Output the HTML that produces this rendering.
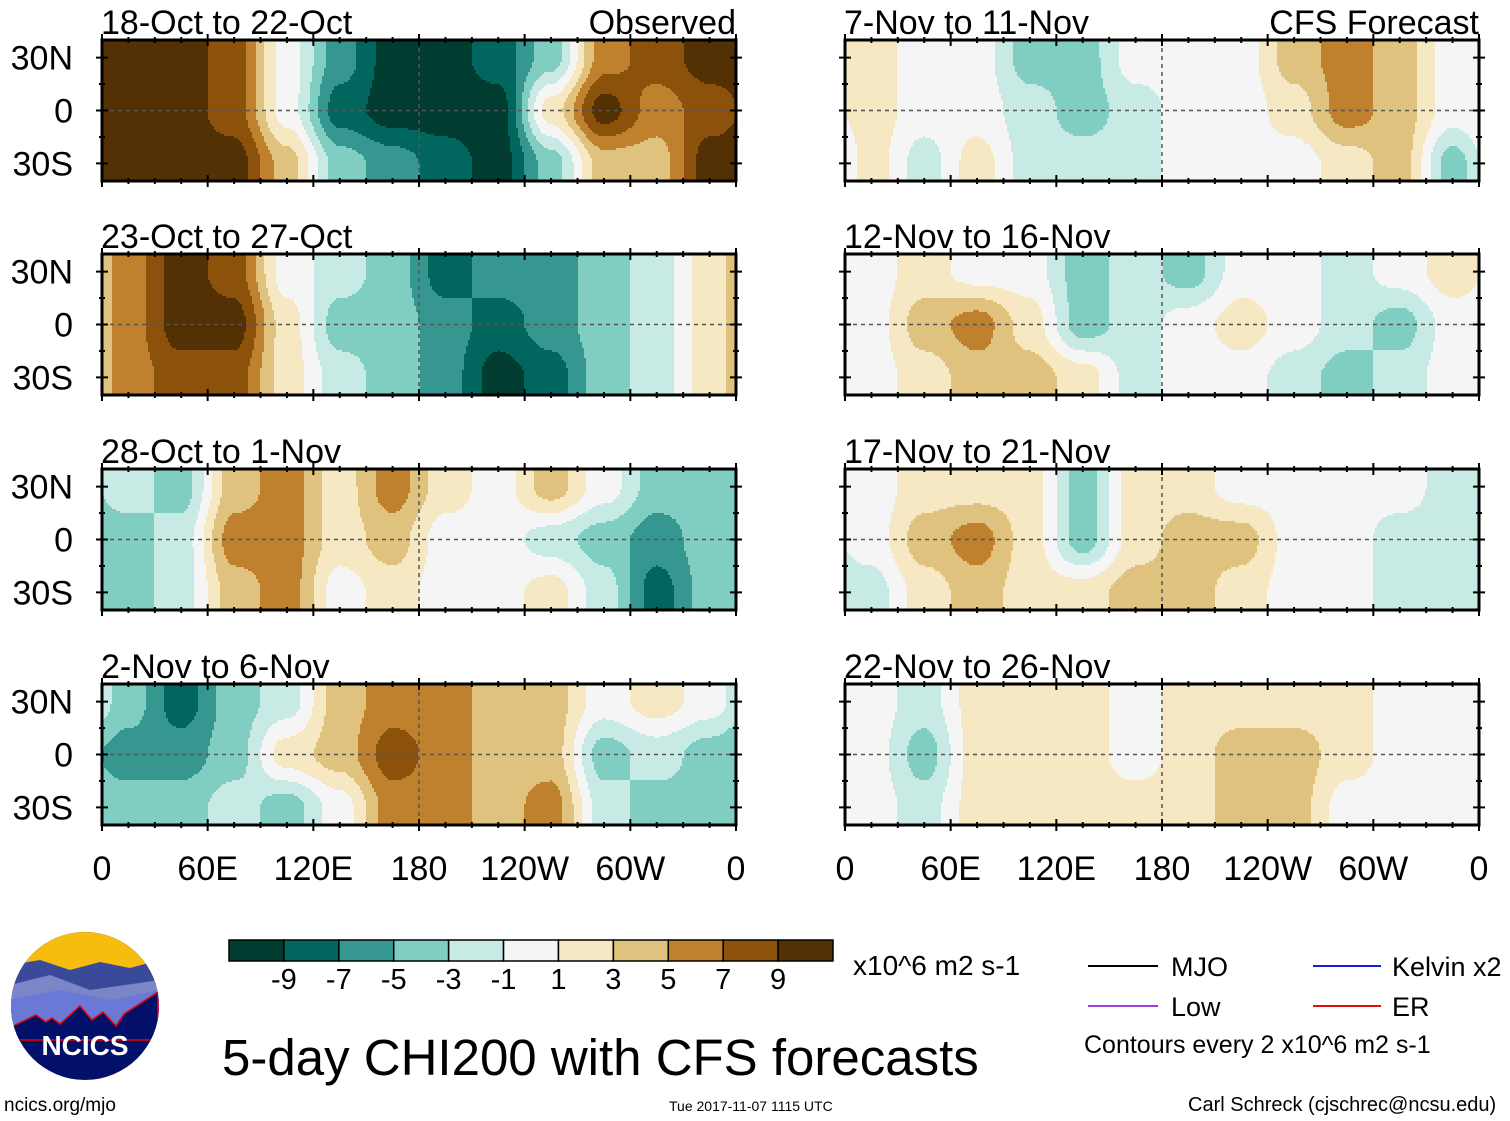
<!DOCTYPE html>
<html><head><meta charset="utf-8"><style>
body{margin:0;background:#fff;}
svg{display:block;font-family:"Liberation Sans",sans-serif;}
</style></head><body>
<svg id="fig" width="1510" height="1121" viewBox="0 0 1510 1121">
<defs>
<clipPath id="logoclip"><circle cx="85" cy="1006" r="74"/></clipPath>
</defs>
<g id="panels"></g>
<g clip-path="url(#logoclip)">
<rect x="10" y="930" width="150" height="160" fill="#03106a"/>
<rect x="10" y="930" width="150" height="55" fill="#f6bd0f"/>
<path d="M10 965 L40 960 L70 970 L100 962 L130 968 L160 960 L160 1020 L10 1020Z" fill="#3a4a9a"/>
<path d="M10 985 L50 975 L90 990 L160 980 L160 1020 L10 1020Z" fill="#7a86c8"/>
<path d="M10 1000 L60 990 L110 1000 L160 990 L160 1030 L10 1030Z" fill="#6a78d6"/>
<path d="M13 1026 L36 1015 L46 1022 L52 1018 L60 1024 L80 1006 L92 1020 L103 1012 L116 1026 L124 1014 L158 992 L158 1040 L13 1040Z" fill="#03106a" stroke="#e00" stroke-width="1.5"/>
</g>
<text x="85" y="1055" text-anchor="middle" fill="#fff" font-weight="bold" font-size="28">NCICS</text>
<text x="4" y="1111" font-size="19">ncics.org/mjo</text>
<g id="cbar"></g>
<text x="853" y="975" font-size="28">x10^6 m2 s-1</text>
<text x="222" y="1075" font-size="51">5-day CHI200 with CFS forecasts</text>
<text x="669" y="1111" font-size="14">Tue 2017-11-07 1115 UTC</text>
<text x="1188" y="1111" font-size="20">Carl Schreck (cjschrec@ncsu.edu)</text>
<g font-size="27">
<line x1="1088" y1="966" x2="1158" y2="966" stroke="#000" stroke-width="2"/>
<text x="1171" y="976">MJO</text>
<line x1="1313" y1="966" x2="1381" y2="966" stroke="#1020e0" stroke-width="2"/>
<text x="1392" y="976">Kelvin x2</text>
<line x1="1088" y1="1006" x2="1158" y2="1006" stroke="#9a40e0" stroke-width="2"/>
<text x="1171" y="1016">Low</text>
<line x1="1313" y1="1006" x2="1381" y2="1006" stroke="#e01010" stroke-width="2"/>
<text x="1392" y="1016">ER</text>
<text x="1084" y="1053" font-size="25">Contours every 2 x10^6 m2 s-1</text>
</g>
</svg>
<script>
const colors=["#003c30","#01665e","#35978f","#80cdc1","#c7eae5","#f5f5f5","#f6e8c3","#dfc27d","#bf812d","#8c510a","#543005"];
const cbarLabels=["-9","-7","-5","-3","-1","1","3","5","7","9"];
const panelTitles=["18-Oct to 22-Oct","23-Oct to 27-Oct","28-Oct to 1-Nov","2-Nov to 6-Nov","7-Nov to 11-Nov","12-Nov to 16-Nov","17-Nov to 21-Nov","22-Nov to 26-Nov"];
const latLabels=["30N","0","30S"];
const latValues=[30,0,-30];
const lonLabels=["0","60E","120E","180","120W","60W","0"];
const lonValues=[0,60,120,180,240,300,360];
// each panel: rows north(30N), equator, south(30S); 12 columns of 30 deg (centres 15E, 45E, ...)
// values are class centres (x10^6 m2 s-1): 0 = white, +-2 = lightest, ... +-10 = darkest
const p1=[[10,10,8,0,-6,-10,-10,-8,-4,6,8,10],[10,10,8,0,-8,-10,-10,-10,2,10,6,8],[10,10,10,4,-4,-6,-8,-10,-4,4,4,10]];
const p2=[[6,10,8,0,-2,-4,-8,-6,-6,-4,-2,2],[6,10,10,2,-4,-4,-6,-8,-6,-4,-2,2],[6,8,8,2,-2,-4,-6,-10,-8,-4,-2,2]];
const p3=[[-2,-4,4,6,2,6,2,0,4,0,-4,-4],[-4,-2,6,6,2,4,0,0,-2,-4,-6,-4],[-4,-2,4,6,0,2,0,0,2,-2,-8,-4]];
const p4=[[-4,-8,-4,-2,4,6,6,4,4,0,2,0],[-6,-6,-4,2,4,8,6,4,4,-4,-2,-4],[-4,-4,-2,-4,0,6,6,4,6,-2,-4,-4]];
const p5=[[2,0,0,-4,-4,0,0,0,4,6,4,0],[2,0,0,-2,-4,-2,0,0,2,6,4,0],[2,-2,2,-2,-2,-2,0,0,0,2,4,-4]];
const p6=[[0,2,0,0,-4,-2,-4,0,0,-2,0,2],[0,4,6,2,-4,-2,0,2,0,-2,-4,0],[0,2,4,4,2,-2,0,0,-2,-4,-2,0]];
const p7=[[0,2,2,2,-4,2,2,0,0,0,0,-2],[0,4,6,2,-4,2,4,4,0,0,-2,-2],[-2,2,4,2,2,4,4,2,0,0,-2,-2]];
const p8=[[0,-2,2,2,2,0,2,2,2,2,0,0],[0,-4,2,2,2,0,2,4,4,2,0,0],[0,-2,2,2,2,2,2,4,4,0,0,0]];
const panelData=[p1,p2,p3,p4,p5,p6,p7,p8];

const NS="http://www.w3.org/2000/svg";
function mk(tag,attrs,parent){const e=document.createElementNS(NS,tag);for(const k in attrs)e.setAttribute(k,attrs[k]);parent.appendChild(e);return e;}
function classOf(v){let i=Math.floor((v+11)/2);return Math.max(0,Math.min(10,i));}
function smooth(t){return t*t*(3-2*t);}
function field(data,lon,lat){
  let c=(lon-15)/30; c=((c%12)+12)%12;
  const c0=Math.floor(c),c1=(c0+1)%12,fc=smooth(c-c0);
  let r=(30-lat)/30; r=Math.max(0,Math.min(2,r));
  const r0=Math.min(1,Math.floor(r)),r1=r0+1,fr=smooth(r-r0);
  const a=data[r0][c0]*(1-fc)+data[r0][c1]*fc;
  const b=data[r1][c0]*(1-fc)+data[r1][c1]*fc;
  return a*(1-fr)+b*fr;
}
const W=634,H=141,STEP=2;
const panelX=[102,845],panelY=[40,254,469,684];
const root=document.getElementById('panels');
panelData.forEach((data,pi)=>{
  const px=panelX[Math.floor(pi/4)],py=panelY[pi%4];
  const xs=lon=>px+lon/360*W;
  const ys=lat=>py+H/2-lat/40*(H/2);
  const g=mk('g',{},root);
  
  
  const fld=mk('g',{'shape-rendering':'crispEdges'},g);
  for(let y=0;y<H;y+=STEP){
    const lat=40-(y+STEP/2)/H*80;
    const hgt=Math.min(STEP,H-y)+0.5;
    let runStart=0,runCls=-1;
    const flush=(end)=>{
      const r=mk('rect',{x:px+runStart,y:py+y,width:end-runStart+0.5,height:hgt,fill:colors[runCls]},fld);
      
      
    };
    for(let x=0;x<W;x+=STEP){
      const lon=(x+STEP/2)/W*360;
      const cls=classOf(field(data,lon,lat));
      if(cls!==runCls){
        if(runCls>=0)flush(x);
        runStart=x;runCls=cls;
      }
    }
    flush(W);
  }
  mk('line',{x1:px,y1:ys(0),x2:px+W,y2:ys(0),stroke:'#555','stroke-dasharray':'4,4','stroke-width':1.5},g);
  mk('line',{x1:xs(180),y1:py,x2:xs(180),y2:py+H,stroke:'#555','stroke-dasharray':'4,4','stroke-width':1.5},g);
  mk('rect',{x:px,y:py,width:W,height:H,fill:'none',stroke:'#000','stroke-width':3},g);
  for(let l=0;l<=360;l+=15){
    const len=(l%60===0)?6:3;
    mk('line',{x1:xs(l),y1:py-len,x2:xs(l),y2:py+len,stroke:'#000','stroke-width':2},g);
    mk('line',{x1:xs(l),y1:py+H-len,x2:xs(l),y2:py+H+len,stroke:'#000','stroke-width':2},g);
  }
  for(let l=-30;l<=30;l+=15){
    const len=(l%30===0)?6:3;
    mk('line',{x1:px-len,y1:ys(l),x2:px+len,y2:ys(l),stroke:'#000','stroke-width':2},g);
    mk('line',{x1:px+W-len,y1:ys(l),x2:px+W+len,y2:ys(l),stroke:'#000','stroke-width':2},g);
  }
  const t=mk('text',{x:px-1,y:py-6,'font-size':34},g);t.textContent=panelTitles[pi];
  
  
  if(pi===0||pi===4){
    const s=mk('text',{x:px+W,y:py-6,'font-size':34,'text-anchor':'end'},g);
    s.textContent=pi===0?'Observed':'CFS Forecast';
    
    
  }
  if(pi<4){
    latLabels.forEach((lb,i)=>{
      const e=mk('text',{x:73,y:ys(latValues[i])+12,'font-size':34,'text-anchor':'end'},g);e.textContent=lb;
      
      
    });
  }
  if(pi%4===3){
    lonLabels.forEach((lb,i)=>{
      const e=mk('text',{x:xs(lonValues[i]),y:880,'font-size':34,'text-anchor':'middle'},g);e.textContent=lb;
      
      
    });
  }
});
const cb=document.getElementById('cbar');
const cbx=229,cbw=604/11;
colors.forEach((c,i)=>{
  const r=mk('rect',{x:cbx+i*cbw,y:940,width:cbw,height:21,fill:c,stroke:'#000','stroke-width':1.5},cb);
  
  
});
cbarLabels.forEach((lb,i)=>{
  const t=mk('text',{x:cbx+(i+1)*cbw,y:989,'font-size':29,'text-anchor':'middle'},cb);t.textContent=lb;
  
  
});
</script>
</body></html>
